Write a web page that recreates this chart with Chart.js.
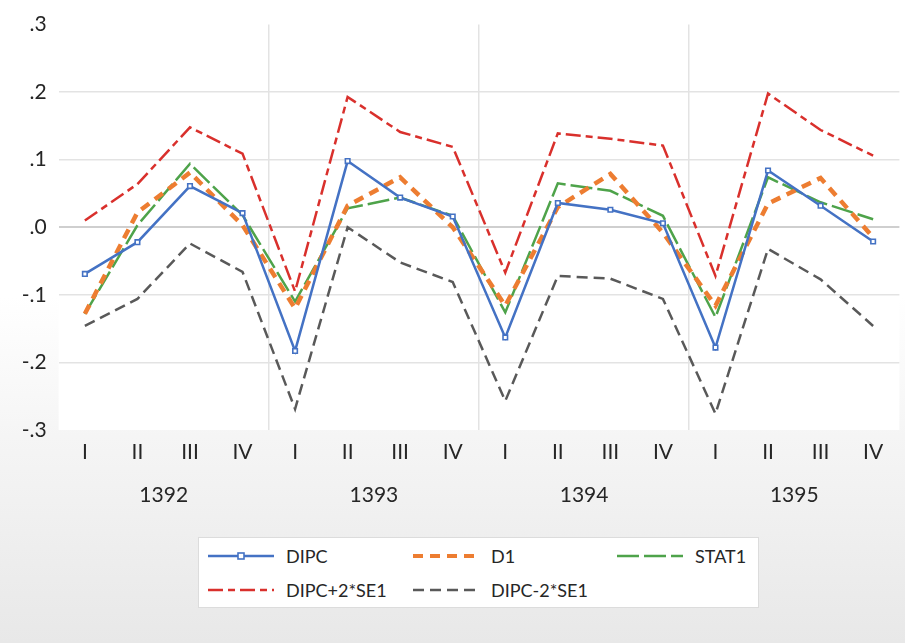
<!DOCTYPE html>
<html>
<head>
<meta charset="utf-8">
<script src="https://cdn.jsdelivr.net/npm/chart.js@4/dist/chart.umd.min.js"></script>
<style>
  html, body { margin: 0; padding: 0; }
  body {
    width: 905px; height: 643px; overflow: hidden; position: relative;
    background: linear-gradient(to bottom, #ffffff 0%, #ffffff 46%, #f5f5f5 68%, #e8e8e8 100%);
    font-family: Lato, "Open Sans", sans-serif;
  }
  #wrap { position: absolute; left: 0; top: 0; width: 905px; height: 643px; }
  #legend {
    position: absolute; left: 198px; top: 537px; width: 561px; height: 71px;
    background: #ffffff; border: 1px solid #dcdcdc; box-sizing: border-box;
  }
  .item { position: absolute; display: flex; align-items: center; font-size: 18px; color: #262626; }
  .item svg { margin-right: 12px; }
</style>
</head>
<body>
<div id="wrap"><canvas id="c" width="905" height="643"></canvas></div>
<div id="legend"></div>
<script>
const years = ['1392', '1393', '1394', '1395'];
const quarters = ['I', 'II', 'III', 'IV', 'I', 'II', 'III', 'IV', 'I', 'II', 'III', 'IV', 'I', 'II', 'III', 'IV'];
const yTicks = [-0.3, -0.2, -0.1, 0.0, 0.1, 0.2, 0.3];

const seriesNames = ['DIPC', 'D1', 'STAT1', 'DIPC+2*SE1', 'DIPC-2*SE1'];
const DIPC  = [-0.069, -0.022, 0.061, 0.021, -0.183, 0.098, 0.044, 0.016, -0.163, 0.036, 0.026, 0.006, -0.178, 0.084, 0.032, -0.021];
const D1    = [-0.128, 0.022, 0.081, 0.003, -0.120, 0.032, 0.074, 0.000, -0.116, 0.030, 0.079, -0.008, -0.116, 0.035, 0.073, -0.015];
const STAT1 = [-0.128, 0.003, 0.094, 0.018, -0.110, 0.028, 0.044, 0.017, -0.126, 0.065, 0.054, 0.017, -0.133, 0.074, 0.037, 0.012];
const UPPER = [0.010, 0.064, 0.148, 0.109, -0.095, 0.193, 0.141, 0.119, -0.067, 0.139, 0.131, 0.121, -0.072, 0.198, 0.144, 0.106];
const LOWER = [-0.146, -0.106, -0.024, -0.066, -0.269, 0.000, -0.052, -0.081, -0.257, -0.072, -0.076, -0.106, -0.276, -0.032, -0.077, -0.146];

const styles = [
  { color: '#4472C4', width: 2.5, dash: [] , marker: true },
  { color: '#ED7D31', width: 4.5, dash: [10, 7] },
  { color: '#4EA34A', width: 2.5, dash: [22, 5] },
  { color: '#D9302C', width: 2.5, dash: [15, 5, 7, 5] },
  { color: '#595959', width: 2.5, dash: [11, 6] }
];
const values = [DIPC, D1, STAT1, UPPER, LOWER];

const datasets = values.map((v, i) => ({
  label: seriesNames[i],
  data: v,
  borderColor: styles[i].color,
  borderWidth: styles[i].width,
  borderDash: styles[i].dash,
  backgroundColor: styles[i].color,
  tension: 0,
  fill: false,
  pointStyle: 'rect',
  pointRadius: styles[i].marker ? 3.2 : 0,
  pointBorderWidth: 1.6,
  pointBackgroundColor: '#ffffff',
  pointBorderColor: styles[i].color,
  borderCapStyle: 'butt',
  borderJoinStyle: 'miter'
}));

const plotBg = {
  id: 'plotBg',
  beforeDraw(chart) {
    const a = chart.chartArea, ctx = chart.ctx;
    ctx.save();
    ctx.fillStyle = '#ffffff';
    ctx.fillRect(a.left, a.top, a.right - a.left, a.bottom - a.top);
    ctx.restore();
  }
};

const tickFont = { family: 'Lato, "Open Sans", sans-serif', size: 21 };

new Chart(document.getElementById('c'), {
  type: 'line',
  data: { labels: quarters, datasets },
  plugins: [plotBg],
  options: {
    responsive: false,
    animation: false,
    layout: { padding: { top: 24, right: 3, bottom: 125, left: 0 } },
    plugins: { legend: { display: false }, tooltip: { enabled: false } },
    scales: {
      x: {
        type: 'category',
        position: 'bottom',
        weight: 0,
        offset: true,
        grid: {
          offset: true,
          drawTicks: false,
          color: ctx => (ctx.index % 4 === 0 && ctx.index > 0 && ctx.index < 16) ? '#e3e3e3' : 'rgba(0,0,0,0)',
          lineWidth: 1.5
        },
        border: { display: false },
        ticks: { font: tickFont, color: '#262626', padding: 10, maxRotation: 0, autoSkip: false },
        afterFit: s => { s.height = 44; }
      },
      x2: {
        type: 'category',
        labels: years,
        position: 'bottom',
        weight: 1,
        offset: true,
        grid: { display: false, drawTicks: false },
        border: { display: false },
        ticks: { font: tickFont, color: '#262626', padding: 9, maxRotation: 0 },
        afterFit: s => { s.height = 44; }
      },
      y: {
        min: -0.3, max: 0.3,
        afterBuildTicks: s => { s.ticks = yTicks.map(v => ({ value: v })); },
        grid: {
          drawTicks: false,
          color: ctx => {
            const v = Math.round(ctx.tick.value * 10) / 10;
            if (Math.abs(v) >= 0.3) return 'rgba(0,0,0,0)';
            return v === 0 ? '#cfcfcf' : '#e3e3e3';
          },
          lineWidth: ctx => (Math.round(ctx.tick.value * 10) === 0 ? 2 : 1.5)
        },
        border: { display: false },
        ticks: {
          font: tickFont, color: '#262626', padding: 12,
          callback: v => {
            const s = (Math.round(v * 10) / 10).toFixed(1);
            return s.replace('0.', '.');
          }
        },
        afterFit: s => { s.width = 58.6; }
      }
    }
  }
});

// legend built from the series names and styles
const legend = document.getElementById('legend');
const pos = [
  { left: 9, top: 6 }, { left: 214, top: 6 }, { left: 418, top: 6 },
  { left: 9, top: 40 }, { left: 214, top: 40 }
];
seriesNames.forEach((name, i) => {
  const st = styles[i];
  const div = document.createElement('div');
  div.className = 'item';
  div.style.left = pos[i].left + 'px';
  div.style.top = pos[i].top + 'px';
  const w = 66;
  let svg = '<svg width="' + w + '" height="24">' +
    '<line x1="0" y1="12" x2="' + w + '" y2="12" stroke="' + st.color + '" stroke-width="' + Math.min(st.width, 4) +
    '" stroke-dasharray="' + (st.dash.length ? st.dash.join(',') : 'none') + '"/>';
  if (st.marker) svg += '<rect x="' + (w / 2 - 3) + '" y="9" width="6" height="6" fill="#fff" stroke="' + st.color + '" stroke-width="1.6"/>';
  svg += '</svg>';
  div.innerHTML = svg + '<span>' + name + '</span>';
  legend.appendChild(div);
});
</script>
</body>
</html>
